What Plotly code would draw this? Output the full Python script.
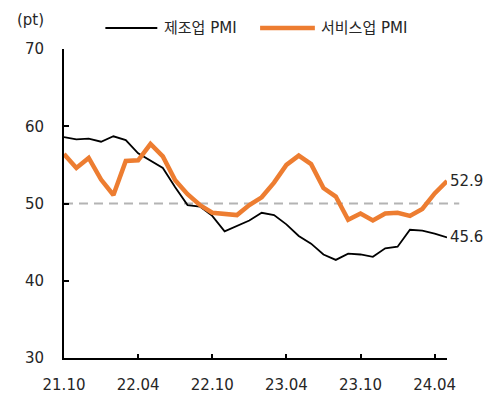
import plotly.graph_objects as go

months = ["21.10", "21.11", "21.12", "22.01", "22.02", "22.03", "22.04", "22.05",
          "22.06", "22.07", "22.08", "22.09", "22.10", "22.11", "22.12", "23.01",
          "23.02", "23.03", "23.04", "23.05", "23.06", "23.07", "23.08", "23.09",
          "23.10", "23.11", "23.12", "24.01", "24.02", "24.03", "24.04", "24.05"]
tick_labels = ["21.10", "22.04", "22.10", "23.04", "23.10", "24.04"]

manufacturing = [58.6, 58.3, 58.4, 58.0, 58.7, 58.2, 56.5, 55.5, 54.6, 52.1, 49.8,
                 49.6, 48.4, 46.4, 47.1, 47.8, 48.8, 48.5, 47.3, 45.8, 44.8, 43.4,
                 42.7, 43.5, 43.4, 43.1, 44.2, 44.4, 46.6, 46.5, 46.1, 45.6]
services = [56.4, 54.6, 55.9, 53.1, 51.1, 55.5, 55.6, 57.7, 56.1, 53.0, 51.2,
            49.8, 48.8, 48.6, 48.5, 49.8, 50.8, 52.7, 55.0, 56.2, 55.1, 52.0,
            50.9, 47.9, 48.7, 47.8, 48.7, 48.8, 48.4, 49.3, 51.3, 52.9]
baseline = 50
y_ticks = [30, 40, 50, 60, 70]

FONT = "DejaVu Sans, Noto Sans CJK KR"
KFONT = "Noto Sans CJK KR"
ORANGE = "#ED7D31"
TXT = "#262626"
last = len(months) - 1

fig = go.Figure()
fig.add_trace(go.Scatter(x=months, y=manufacturing, mode="lines", name="제조업 PMI",
                         line=dict(color="black", width=1.8), showlegend=False))
fig.add_trace(go.Scatter(x=months, y=services, mode="lines", name="서비스업 PMI",
                         line=dict(color=ORANGE, width=4.5), showlegend=False))

# baseline dashed line (extends slightly beyond plot)
fig.add_shape(type="line", xref="paper", yref="y", x0=0, x1=1.032, y0=baseline, y1=baseline,
              line=dict(color="#B4B4B4", width=2, dash="9px,6px"), layer="below")

# end labels
fig.add_annotation(x=last, y=services[-1], text=f"{services[-1]:.1f}", showarrow=False,
                   xanchor="left", yanchor="middle", xshift=1,
                   font=dict(family=FONT, size=15, color=TXT))
fig.add_annotation(x=last, y=manufacturing[-1], text=f"{manufacturing[-1]:.1f}", showarrow=False,
                   xanchor="left", yanchor="middle", xshift=1,
                   font=dict(family=FONT, size=15, color=TXT))

# manual legend
fig.add_shape(type="line", xref="paper", yref="paper", x0=0.108, x1=0.2436, y0=1.068, y1=1.068,
              line=dict(color="black", width=1.8))
fig.add_annotation(xref="paper", yref="paper", x=0.255, y=1.068, text="제조업 PMI", showarrow=False,
                   xanchor="left", yanchor="middle", font=dict(family=FONT, size=15, color=TXT))
fig.add_shape(type="line", xref="paper", yref="paper", x0=0.512, x1=0.655, y0=1.068, y1=1.068,
              line=dict(color=ORANGE, width=4.5))
fig.add_annotation(xref="paper", yref="paper", x=0.665, y=1.068, text="서비스업 PMI", showarrow=False,
                   xanchor="left", yanchor="middle", font=dict(family=FONT, size=15, color=TXT))
fig.add_annotation(xref="paper", yref="paper", x=-0.128, y=1.094, text="(pt)", showarrow=False,
                   xanchor="left", yanchor="middle", font=dict(family=FONT, size=15, color=TXT))

fig.update_layout(
    width=484, height=391,
    margin=dict(l=55.5, r=44.7, t=41, b=41, autoexpand=False),
    plot_bgcolor="white", paper_bgcolor="white",
    font=dict(family=FONT, size=15, color=TXT),
    showlegend=False,
)
fig.update_xaxes(
    type="category", range=[0, last], automargin=False,
    tickmode="array", tickvals=[months[i] for i in (0, 6, 12, 18, 24, 30)], ticktext=tick_labels,
    showline=True, linecolor="black", linewidth=2,
    ticks="inside", ticklen=4, tickwidth=1.5, tickcolor="black",
    showgrid=False, zeroline=False, ticklabelstandoff=12,
)
fig.update_yaxes(
    range=[30, 70], tickvals=y_ticks, automargin=False,
    showline=True, linecolor="black", linewidth=2,
    ticks="inside", ticklen=5, tickwidth=1.5, tickcolor="black",
    showgrid=False, zeroline=False, ticklabelstandoff=15,
)

fig.write_html("out.html")
